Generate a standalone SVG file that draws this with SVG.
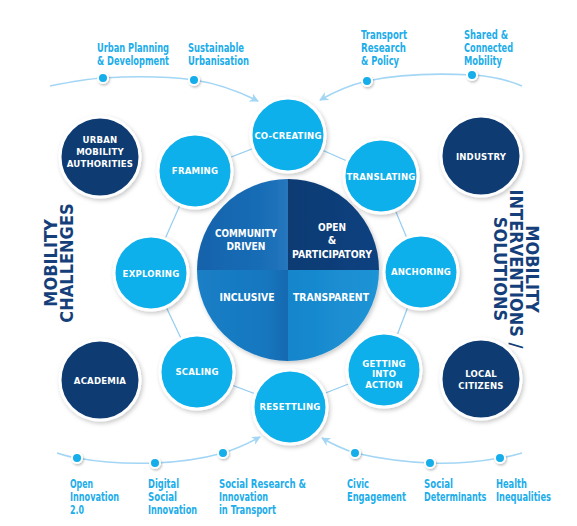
<svg xmlns="http://www.w3.org/2000/svg" width="577" height="526" viewBox="0 0 577 526">
<defs>
<style>
.lbl{font-family:"Liberation Sans Narrow","DejaVu Sans Condensed","Liberation Sans",sans-serif;font-weight:bold;font-size:12px;fill:#1cadea}
.nt{font-family:"Liberation Sans Narrow","DejaVu Sans Condensed","Liberation Sans",sans-serif;font-weight:bold;font-size:9.5px;fill:#ffffff;text-anchor:middle;letter-spacing:0.2px}
.ct{font-family:"Liberation Sans Narrow","DejaVu Sans Condensed","Liberation Sans",sans-serif;font-weight:bold;font-size:10.8px;fill:#ffffff;text-anchor:middle}
.ttl{font-family:"Liberation Sans Narrow","DejaVu Sans Condensed","Liberation Sans",sans-serif;font-weight:bold;font-size:18px;fill:#143f7a;text-anchor:middle}
.cy{fill:#0fb0ea;stroke:#ffffff;stroke-width:3;filter:url(#sh)}
.nv{fill:#0d3b72;stroke:#ffffff;stroke-width:3;filter:url(#sh)}
.dot{fill:#13aeea;stroke:#ffffff;stroke-width:2;filter:url(#sh2)}
.arc{fill:none;stroke:#a3d6f4;stroke-width:1.6}
.ring{stroke:#93cdf1;stroke-width:1.2}
</style>
<filter id="sh" x="-30%" y="-30%" width="160%" height="160%">
<feDropShadow dx="1.5" dy="2" stdDeviation="2" flood-color="#000" flood-opacity="0.22"/>
</filter>
<filter id="sh2" x="-60%" y="-60%" width="220%" height="220%">
<feDropShadow dx="1" dy="1.5" stdDeviation="1.2" flood-color="#000" flood-opacity="0.25"/>
</filter>
<marker id="ah" viewBox="0 0 10 10" refX="9" refY="5" markerWidth="9" markerHeight="9" markerUnits="userSpaceOnUse" orient="auto">
<path d="M0,0 L10,5 L0,10 L3,5 Z" fill="#a3d6f4"/>
</marker>
<linearGradient id="gTL" x1="0" y1="0" x2="1" y2="0"><stop offset="0" stop-color="#1462ab"/><stop offset="0.8" stop-color="#1a6fb8"/><stop offset="1" stop-color="#2777bd"/></linearGradient>
<linearGradient id="gTR" x1="0" y1="0" x2="1" y2="0"><stop offset="0" stop-color="#0b3a72"/><stop offset="1" stop-color="#0e4280"/></linearGradient>
<linearGradient id="gBL" x1="0" y1="0" x2="1" y2="0"><stop offset="0" stop-color="#1a7fc6"/><stop offset="0.75" stop-color="#1877bf"/><stop offset="1" stop-color="#1469b0"/></linearGradient>
<linearGradient id="gBR" x1="0" y1="0" x2="1" y2="0"><stop offset="0" stop-color="#1785cb"/><stop offset="1" stop-color="#1d94d6"/></linearGradient>
</defs>
<rect width="577" height="526" fill="#ffffff"/>

<g id="connectors">
<line class="ring" x1="288" y1="135" x2="381" y2="176"/>
<line class="ring" x1="381" y1="176" x2="421" y2="272"/>
<line class="ring" x1="421" y1="272" x2="384" y2="370"/>
<line class="ring" x1="384" y1="370" x2="290" y2="407"/>
<line class="ring" x1="290" y1="407" x2="197" y2="372"/>
<line class="ring" x1="197" y1="372" x2="150" y2="273"/>
<line class="ring" x1="150" y1="273" x2="195" y2="171"/>
<line class="ring" x1="195" y1="171" x2="288" y2="135"/>
<path class="arc" marker-end="url(#ah)" d="M50,86 C70,82 85,79 103,78 C135,76 165,76 194,80 C215,83 238,91 258,101"/>
<path class="arc" marker-end="url(#ah)" d="M522,86 C508,80 490,76 472,75 C435,73 395,75 367,81 C350,85 334,92 320,100"/>
<path class="arc" marker-end="url(#ah)" d="M57,453 C63,455 70,457 77,458 C105,463 130,464 155,463 C180,462 205,458 223,453 C236,449 249,443 260,437"/>
<path class="arc" marker-end="url(#ah)" d="M522,453 C515,455 508,457 500,458 C477,462 453,464 430,463 C403,462 377,458 355,453 C343,449 332,444 322,438"/>
</g>

<g id="dots">
<circle class="dot" cx="103" cy="78" r="5"/>
<circle class="dot" cx="194" cy="80" r="5"/>
<circle class="dot" cx="367" cy="81" r="5"/>
<circle class="dot" cx="472" cy="75" r="5"/>
<circle class="dot" cx="77" cy="458" r="5"/>
<circle class="dot" cx="155" cy="463" r="5"/>
<circle class="dot" cx="223" cy="453" r="5"/>
<circle class="dot" cx="355" cy="453" r="5"/>
<circle class="dot" cx="430" cy="463" r="5"/>
<circle class="dot" cx="500" cy="458" r="5"/>
</g>

<g id="labels">
<text class="lbl" x="97" y="52" textLength="72" lengthAdjust="spacingAndGlyphs">Urban Planning</text>
<text class="lbl" x="97" y="65" textLength="72" lengthAdjust="spacingAndGlyphs">&amp; Development</text>
<text class="lbl" x="188" y="52" textLength="56" lengthAdjust="spacingAndGlyphs">Sustainable</text>
<text class="lbl" x="188" y="65" textLength="61" lengthAdjust="spacingAndGlyphs">Urbanisation</text>
<text class="lbl" x="361" y="39" textLength="46" lengthAdjust="spacingAndGlyphs">Transport</text>
<text class="lbl" x="361" y="52" textLength="45" lengthAdjust="spacingAndGlyphs">Research</text>
<text class="lbl" x="361" y="65" textLength="38" lengthAdjust="spacingAndGlyphs">&amp; Policy</text>
<text class="lbl" x="464" y="39" textLength="44" lengthAdjust="spacingAndGlyphs">Shared &amp;</text>
<text class="lbl" x="464" y="52" textLength="49" lengthAdjust="spacingAndGlyphs">Connected</text>
<text class="lbl" x="464" y="65" textLength="38" lengthAdjust="spacingAndGlyphs">Mobility</text>
<text class="lbl" x="70" y="488" textLength="23" lengthAdjust="spacingAndGlyphs">Open</text>
<text class="lbl" x="70" y="501" textLength="49" lengthAdjust="spacingAndGlyphs">Innovation</text>
<text class="lbl" x="70" y="514" textLength="14" lengthAdjust="spacingAndGlyphs">2.0</text>
<text class="lbl" x="148" y="488" textLength="31" lengthAdjust="spacingAndGlyphs">Digital</text>
<text class="lbl" x="148" y="501" textLength="29" lengthAdjust="spacingAndGlyphs">Social</text>
<text class="lbl" x="148" y="514" textLength="49" lengthAdjust="spacingAndGlyphs">Innovation</text>
<text class="lbl" x="219" y="488" textLength="87" lengthAdjust="spacingAndGlyphs">Social Research &amp;</text>
<text class="lbl" x="219" y="501" textLength="49" lengthAdjust="spacingAndGlyphs">Innovation</text>
<text class="lbl" x="219" y="514" textLength="57" lengthAdjust="spacingAndGlyphs">in Transport</text>
<text class="lbl" x="347" y="488" textLength="22" lengthAdjust="spacingAndGlyphs">Civic</text>
<text class="lbl" x="347" y="501" textLength="59" lengthAdjust="spacingAndGlyphs">Engagement</text>
<text class="lbl" x="424" y="488" textLength="29" lengthAdjust="spacingAndGlyphs">Social</text>
<text class="lbl" transform="translate(424,501) scale(0.75,1)" x="0" y="0">Determinants</text>
<text class="lbl" x="496" y="488" textLength="31" lengthAdjust="spacingAndGlyphs">Health</text>
<text class="lbl" x="496" y="501" textLength="55" lengthAdjust="spacingAndGlyphs">Inequalities</text>
</g>

<g id="title-left">
<text class="ttl" transform="translate(59,263) rotate(-90)"><tspan x="0" y="-2">MOBILITY</tspan><tspan x="0" y="14">CHALLENGES</tspan></text>
</g>
<g id="title-right">
<text class="ttl" transform="translate(517,269) rotate(90)"><tspan x="0" y="-9">MOBILITY</tspan><tspan x="0" y="7">INTERVENTIONS /</tspan><tspan x="0" y="23">SOLUTIONS</tspan></text>
</g>

<g id="center">
<g filter="url(#sh)">
<path d="M288,270 H197 A91,91 0 0 1 288,179 Z" fill="url(#gTL)"/>
<path d="M288,270 V179 A91,91 0 0 1 379,270 Z" fill="url(#gTR)"/>
<path d="M288,270 H379 A91,91 0 0 1 288,361 Z" fill="url(#gBR)"/>
<path d="M288,270 V361 A91,91 0 0 1 197,270 Z" fill="url(#gBL)"/>
</g>
<text class="ct" x="246" y="237" textLength="62" lengthAdjust="spacingAndGlyphs">COMMUNITY</text>
<text class="ct" x="246" y="250" textLength="39" lengthAdjust="spacingAndGlyphs">DRIVEN</text>
<text class="ct" x="332" y="231" textLength="28" lengthAdjust="spacingAndGlyphs">OPEN</text>
<text class="ct" x="332" y="244">&amp;</text>
<text class="ct" x="332" y="258" textLength="80" lengthAdjust="spacingAndGlyphs">PARTICIPATORY</text>
<text class="ct" x="247" y="301" textLength="55" lengthAdjust="spacingAndGlyphs">INCLUSIVE</text>
<text class="ct" x="331" y="301" textLength="76" lengthAdjust="spacingAndGlyphs">TRANSPARENT</text>
</g>

<g id="co-creating"><circle class="cy" cx="288" cy="135" r="37"/><text class="nt" x="288" y="139">CO-CREATING</text></g>
<g id="translating"><circle class="cy" cx="381" cy="176" r="37"/><text class="nt" x="381" y="180">TRANSLATING</text></g>
<g id="anchoring"><circle class="cy" cx="421" cy="272" r="37"/><text class="nt" x="421" y="275">ANCHORING</text></g>
<g id="getting-into-action"><circle class="cy" cx="384" cy="370" r="37"/><text class="nt" x="384" y="367">GETTING</text><text class="nt" x="384" y="377">INTO</text><text class="nt" x="384" y="388">ACTION</text></g>
<g id="resettling"><circle class="cy" cx="290" cy="407" r="37"/><text class="nt" x="290" y="410">RESETTLING</text></g>
<g id="scaling"><circle class="cy" cx="197" cy="372" r="37"/><text class="nt" x="197" y="375">SCALING</text></g>
<g id="exploring"><circle class="cy" cx="151" cy="273" r="37"/><text class="nt" x="151" y="277">EXPLORING</text></g>
<g id="framing"><circle class="cy" cx="195" cy="171" r="37"/><text class="nt" x="195" y="174">FRAMING</text></g>

<g id="urban-mobility-authorities"><circle class="nv" cx="100" cy="157" r="40"/><text class="nt" x="100" y="143">URBAN</text><text class="nt" x="100" y="155">MOBILITY</text><text class="nt" x="100" y="167">AUTHORITIES</text></g>
<g id="academia"><circle class="nv" cx="100" cy="380" r="40"/><text class="nt" x="100" y="384">ACADEMIA</text></g>
<g id="industry"><circle class="nv" cx="481" cy="156" r="40"/><text class="nt" x="481" y="160">INDUSTRY</text></g>
<g id="local-citizens"><circle class="nv" cx="481" cy="379" r="40"/><text class="nt" x="481" y="377">LOCAL</text><text class="nt" x="481" y="389">CITIZENS</text></g>
</svg>
